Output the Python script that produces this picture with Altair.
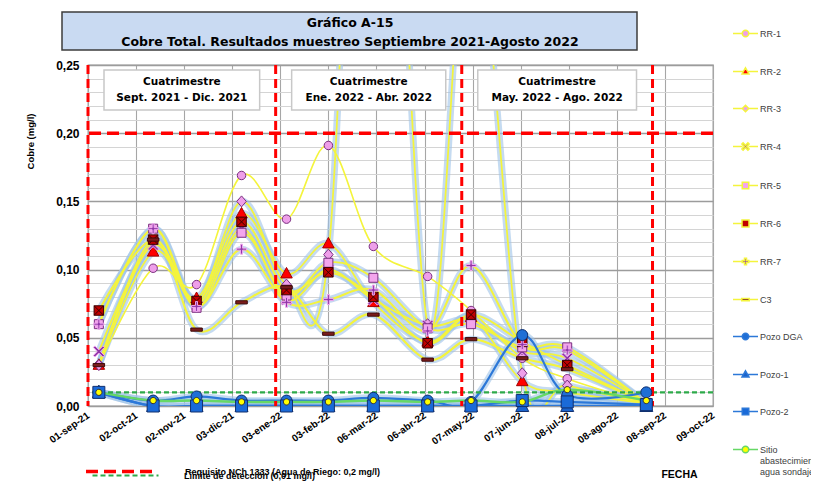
import math
import altair as alt
import pandas as pd

# ------------------------------------------------------------------ data
fechas = ["2021-09-08", "2021-10-13", "2021-11-10", "2021-12-09", "2022-01-07", "2022-02-03",
          "2022-03-04", "2022-04-08", "2022-05-06", "2022-06-08", "2022-07-07", "2022-08-27"]

series = ["RR-1", "RR-2", "RR-3", "RR-4", "RR-5", "RR-6", "RR-7", "C3",
          "Pozo DGA", "Pozo-1", "Pozo-2", "Sitio abastecimiento agua sondajes"]

rr1 = [0.030, 0.101, 0.089, 0.169, 0.137, 0.191, 0.117, 0.095, 0.070, 0.035, 0.020, 0.002]
rr2 = [0.030, 0.113, 0.079, 0.141, 0.097, 0.119, 0.076, 0.047, 0.065, 0.018, 0.010, 0.002]
rr3 = [0.030, 0.120, 0.075, 0.150, 0.089, 0.111, 0.680, 0.060, 0.380, 0.024, 0.015, 0.002]
rr4 = [0.040, 0.118, 0.074, 0.130, 0.078, 0.100, 0.078, 0.059, 0.063, 0.040, 0.035, 0.002]
rr5 = [0.060, 0.130, 0.072, 0.127, 0.081, 0.105, 0.094, 0.057, 0.060, 0.043, 0.043, 0.002]
rr6 = [0.070, 0.122, 0.077, 0.135, 0.085, 0.098, 0.080, 0.046, 0.067, 0.047, 0.030, 0.002]
rr7 = [0.060, 0.130, 0.073, 0.115, 0.076, 0.078, 0.085, 0.055, 0.103, 0.045, 0.041, 0.002]
c3 = [0.030, 0.122, 0.056, 0.076, 0.087, 0.053, 0.067, 0.034, 0.049, 0.035, 0.027, 0.002]
pozo_dga = [0.010, 0.004, 0.007, 0.004, 0.004, 0.004, 0.006, 0.004, 0.003, 0.052, 0.008, 0.010]
pozo_1 = [0.010, 0.000, 0.000, 0.000, 0.000, 0.000, 0.000, 0.000, 0.000, 0.000, 0.000, 0.000]
pozo_2 = [0.010, 0.000, 0.000, 0.000, 0.000, 0.000, 0.000, 0.000, 0.000, 0.004, 0.003, 0.001]
sitio = [0.010, 0.004, 0.004, 0.003, 0.003, 0.003, 0.004, 0.003, 0.004, 0.003, 0.012, 0.004]

ticks_x = ["2021-09-01", "2021-10-02", "2021-11-02", "2021-12-03", "2022-01-03", "2022-02-03",
           "2022-03-06", "2022-04-06", "2022-05-07", "2022-06-07", "2022-07-08", "2022-08-08",
           "2022-09-08", "2022-10-09"]
meses = ["ene", "feb", "mar", "abr", "may", "jun", "jul", "ago", "sep", "oct", "nov", "dic"]
ticks_y_mayor = [0.00, 0.05, 0.10, 0.15, 0.20, 0.25]
ticks_y_menor = [i / 100 for i in range(0, 26) if i % 5]

divisiones = ["2021-09-01", "2021-12-31", "2022-04-30", "2022-08-31"]
periodo_inicio = ["2021-09-01", "2021-12-31", "2022-04-30"]
periodo_fin = ["2021-12-31", "2022-04-30", "2022-08-31"]
periodo_texto = ["Cuatrimestre\nSept. 2021 - Dic. 2021",
                 "Cuatrimestre\nEne. 2022 - Abr. 2022",
                 "Cuatrimestre\nMay. 2022 - Ago. 2022"]

limite_riego_nombre = ["Requisito NCh 1333 (Agua de Riego: 0,2 mg/l)"]
limite_riego_valor = [0.20]
limite_deteccion_nombre = ["Limite de detección (0,01 mg/l)"]
limite_deteccion_valor = [0.01]

titulo = ["Gráfico A-15", "Cobre Total. Resultados muestreo Septiembre 2021-Agosto 2022"]

# ------------------------------------------------------------------ tables
valores = [rr1, rr2, rr3, rr4, rr5, rr6, rr7, c3, pozo_dga, pozo_1, pozo_2, sitio]
filas = []
for orden, (nombre, vals) in enumerate(zip(series, valores)):
    for f, v in zip(fechas, vals):
        filas.append({"fecha": f, "valor": v, "serie": nombre, "orden": orden})
df = pd.DataFrame(filas)
df_div = pd.DataFrame({"fecha": divisiones})
df_per = pd.DataFrame({"inicio": periodo_inicio, "fin": periodo_fin, "texto": periodo_texto})
df_riego = pd.DataFrame({"nombre": limite_riego_nombre, "valor": limite_riego_valor})
df_det = pd.DataFrame({"nombre": limite_deteccion_nombre, "valor": limite_deteccion_valor})
df_titulo = pd.DataFrame({"texto": ["\n".join(titulo)]})


def ms(s):
    return int(pd.Timestamp(s, tz="UTC").timestamp() * 1000)


def etiqueta(s):
    y, m, d = s.split("-")
    return f"{d}-{meses[int(m) - 1]}-{y[2:]}"


inicio_ms = ms(ticks_x[0])
mapa = ",".join(f"'{round((ms(t) - inicio_ms) / 86400000)}': '{etiqueta(t)}'" for t in ticks_x)
label_expr_x = f"{{{mapa}}}['' + round((time(datum.value) - {inicio_ms}) / 86400000)]"


# ------------------------------------------------------------------ marker shapes
def circ(r):
    return f"M{r},0A{r},{r},0,1,1,{-r},0A{r},{r},0,1,1,{r},0Z"


def sq(h):
    return f"M{-h},{-h}H{h}V{h}H{-h}Z"


def plus_pts(a, t):
    return [(-t, -a), (t, -a), (t, -t), (a, -t), (a, t), (t, t), (t, a), (-t, a), (-t, t), (-a, t), (-a, -t), (-t, -t)]


def poly(pts):
    return "M" + "L".join(f"{x:.3f},{y:.3f}" for x, y in pts) + "Z"


def pluspoly(a, t):
    return poly(plus_pts(a, t))


def xpoly(a, t):
    r = 1 / math.sqrt(2)
    return poly([((x - y) * r, (x + y) * r) for x, y in plus_pts(a * math.sqrt(2), t)])


def seg(g):
    return f"M-1,0H{-g}M{g},0H1"


marker_paths = [
    circ(0.85),
    "M0,-1.25L1.15,0.85L-1.15,0.85Z",
    "M0,-1.1L0.95,0L0,1.1L-0.95,0Z",
    xpoly(0.95, 0.22),
    sq(0.9),
    sq(0.95) + "M-0.95,-0.95L0.95,0.95M-0.95,0.95L0.95,-0.95",
    pluspoly(1.0, 0.2),
    "M-1.15,-0.32H1.15V0.32H-1.15Z",
    circ(1.1),
    "M0,-1.45L1.3,1.1L-1.3,1.1Z",
    sq(1.2),
    circ(0.62),
]
legend_paths = [
    seg(0.26) + circ(0.26),
    seg(0.2) + "M0,-0.3L0.28,0.2L-0.28,0.2Z",
    seg(0.26) + "M0,-0.26L0.26,0L0,0.26L-0.26,0Z",
    seg(0.24) + xpoly(0.24, 0.07),
    seg(0.26) + sq(0.26),
    seg(0.28) + sq(0.28),
    seg(0.26) + pluspoly(0.26, 0.08),
    seg(0.3) + "M-0.3,-0.09H0.3V0.09H-0.3Z",
    seg(0.26) + circ(0.26),
    seg(0.2) + "M0,-0.3L0.28,0.2L-0.28,0.2Z",
    seg(0.26) + sq(0.26),
    seg(0.26) + circ(0.26),
]
marker_fills = ["#ee9fe9", "#ff0000", "#ee9fe9", "#8e36a8", "#f3a5ec", "#c00000", "#8e36a8",
                "#7a1c1c", "#1f6fd6", "#1a63cc", "#1a6ad8", "#ffff00"]
marker_strokes = ["#7a2f80", "#a00000", "#7a2f80", "#f0a8ee", "#7a2f80", "#3a0000", "#f0a8ee",
                  "#3d0b0b", "#12306e", "#12306e", "#12306e", "#333333"]
line_colors = ["#f4f43c"] * 8 + ["#2c78d8", "#2c78d8", "#2c78d8", "#66d866"]
line_widths = [1.6] + [2.4] * 7 + [2.0, 2.0, 2.0, 3.0]

# ------------------------------------------------------------------ scales / axes
x_scale = alt.Scale(type="utc", domain=[ms("2021-09-01"), ms("2022-10-09")], nice=False)
y_scale = alt.Scale(domain=[0, 0.25], nice=False, zero=False)

x_axis = alt.Axis(
    orient="bottom", values=[ms(t) for t in ticks_x], labelExpr=label_expr_x,
    grid=True, gridColor="#a6a6a6", gridWidth=1.1, ticks=False, domain=False,
    labelAngle=325, labelAlign="right", labelBaseline="middle", labelPadding=8,
    labelFont="Liberation Sans", labelFontWeight="bold", labelFontSize=10, labelColor="black",
    labelOverlap=False, labelFlush=False,
    title="FECHA", titleFont="Liberation Sans", titleFontWeight="bold", titleFontSize=10.5,
    titleColor="black", titleX=591, titleY=68, titleAlign="center", titleBaseline="middle",
)
y_axis_mayor = alt.Axis(
    orient="left", values=ticks_y_mayor, format=".2f",
    grid=True, gridColor="#9c9c9c", gridWidth=1.6,
    ticks=False, domain=False, labelPadding=9, labelFlush=False,
    labelFont="Liberation Sans", labelFontWeight="bold", labelFontSize=12, labelColor="black",
    title="Cobre (mg/l)", titleFont="Liberation Sans", titleFontWeight="bold", titleFontSize=9.5,
    titleColor="black", titleAngle=270, titleX=-58, titleY=76, titleAlign="center", titleBaseline="middle",
)
y_axis_menor = alt.Axis(
    orient="right", values=ticks_y_menor, grid=True, gridColor="#d4d4d4", gridWidth=1.0,
    ticks=False, domain=False, labels=False, title=None,
)
XN = alt.X("fecha:T", scale=x_scale, axis=None)
YN = alt.Y("valor:Q", scale=y_scale, axis=None)

# ------------------------------------------------------------------ layers
caja_titulo = alt.Chart(df_titulo).mark_rect(fill="#c9daf2", stroke="#3c3c3c", strokeWidth=1.5).encode(
    x=alt.value(-26), x2=alt.value(549), y=alt.value(-53), y2=alt.value(-15)
)
texto_titulo = alt.Chart(df_titulo).mark_text(
    lineBreak="\n", font="DejaVu Sans", fontWeight="bold", fontSize=12.5, align="center",
    baseline="middle", lineHeight=19, color="black"
).encode(x=alt.value(262), y=alt.value(-42), text="texto:N")

brillo = alt.Chart(df).transform_filter("datum.serie != 'RR-1'").mark_line(
    interpolate="cardinal", clip=True, color="#9ec3e8", strokeWidth=7, opacity=0.6
).encode(x=XN, y=alt.Y("valor:Q", scale=y_scale, axis=y_axis_menor), detail="serie:N")

lineas = alt.Chart(df).mark_line(interpolate="cardinal", clip=True).encode(
    x=alt.X("fecha:T", scale=x_scale, axis=x_axis),
    y=alt.Y("valor:Q", scale=y_scale, axis=y_axis_mayor),
    color=alt.Color("serie:N", scale=alt.Scale(domain=series, range=line_colors), legend=None),
    strokeWidth=alt.StrokeWidth("serie:N", scale=alt.Scale(domain=series, range=line_widths), legend=None),
)


def leyenda_limite(legend_x, legend_y, largo, label_offset, grosor):
    return alt.Legend(
        orient="none", legendX=legend_x, legendY=legend_y, title=None, padding=0, symbolType="stroke",
        symbolSize=largo * largo, symbolStrokeWidth=grosor, labelOffset=label_offset, symbolOpacity=1,
        labelFont="Liberation Sans Narrow, Liberation Sans", labelFontWeight="bold", labelFontSize=9,
        labelColor="black", labelLimit=0,
    )


leg_riego = leyenda_limite(-4, 369, 71, 26, 3.5)
riego = alt.Chart(df_riego).mark_rule(strokeWidth=3.5).encode(
    y=YN,
    stroke=alt.Stroke("nombre:N", scale=alt.Scale(domain=limite_riego_nombre, range=["#ff0000"]), legend=leg_riego),
    strokeDash=alt.StrokeDash("nombre:N", scale=alt.Scale(domain=limite_riego_nombre, range=[[12, 6]]), legend=leg_riego),
)
leg_det = leyenda_limite(3, 376, 66, 24, 2.2)
deteccion = alt.Chart(df_det).mark_rule(strokeWidth=2.2).encode(
    y=YN,
    stroke=alt.Stroke("nombre:N", scale=alt.Scale(domain=limite_deteccion_nombre, range=["#2eaa4a"]), legend=leg_det),
    strokeDash=alt.StrokeDash("nombre:N", scale=alt.Scale(domain=limite_deteccion_nombre, range=[[5, 3]]), legend=leg_det),
)

divis = alt.Chart(df_div).mark_rule(color="#ff0000", strokeWidth=3, strokeDash=[9, 5]).encode(x=XN)

cajas = alt.Chart(df_per).mark_rect(
    fill="white", stroke="#c8c8c8", strokeWidth=1.5, xOffset=16, x2Offset=-16, yOffset=5, y2Offset=45
).encode(
    x=alt.X("inicio:T", scale=x_scale, axis=None), x2="fin:T",
    y=alt.YDatum(0.25, scale=y_scale, axis=None), y2=alt.Y2Datum(0.25),
)

textos = alt.Chart(df_per).transform_calculate(
    medio="(time(toDate(datum.inicio)) + time(toDate(datum.fin))) / 2"
).mark_text(
    lineBreak="\n", font="DejaVu Sans", fontWeight="bold", fontSize=10.5, align="center",
    baseline="middle", yOffset=17, lineHeight=16, color="black"
).encode(
    x=alt.X("medio:T", scale=x_scale, axis=None),
    y=alt.YDatum(0.25, scale=y_scale, axis=None), text="texto:N",
)

puntos = alt.Chart(df).transform_filter("datum.valor <= 0.25").mark_point(
    filled=True, size=100, strokeWidth=1, opacity=1
).encode(
    x=XN, y=YN,
    shape=alt.Shape("serie:N", scale=alt.Scale(domain=series, range=marker_paths), legend=None),
    fill=alt.Fill("serie:N", scale=alt.Scale(domain=series, range=marker_fills), legend=None),
    stroke=alt.Stroke("serie:N", scale=alt.Scale(domain=series, range=marker_strokes), legend=None),
    order=alt.Order("orden:Q"),
)

leg_ser = alt.Legend(
    orient="none", legendX=644, legendY=-45, title=None, padding=0, symbolSize=625,
    symbolStrokeWidth=1.5, symbolOpacity=1, labelOffset=1, rowPadding=18,
    labelFont="Liberation Sans Narrow, Liberation Sans", labelFontSize=9, labelColor="#404040",
    labelLimit=0,
    labelExpr="datum.label == 'Sitio abastecimiento agua sondajes' ? ['Sitio', 'abastecimiento', 'agua sondajes'] : datum.label",
)
leyenda = alt.Chart(df).mark_point(filled=True, size=625, opacity=0, strokeWidth=1.5).encode(
    x=XN, y=YN,
    shape=alt.Shape("serie:N", scale=alt.Scale(domain=series, range=legend_paths), legend=leg_ser),
    fill=alt.Fill("serie:N", scale=alt.Scale(domain=series, range=marker_fills), legend=leg_ser),
    stroke=alt.Stroke("serie:N", scale=alt.Scale(domain=series, range=line_colors), legend=leg_ser),
)

locale = {"number": {"decimal": ",", "thousands": ".", "grouping": [3], "currency": ["$", ""]}}

chart = alt.layer(
    caja_titulo, texto_titulo, brillo, lineas, riego, deteccion, divis, cajas, textos, puntos, leyenda
).resolve_scale(
    shape="independent", fill="independent", stroke="independent", strokeDash="independent",
).resolve_axis(x="independent", y="independent").properties(
    width=625, height=341,
    autosize=alt.AutoSizeParams(type="none"),
    padding={"left": 80, "top": 57, "right": 98, "bottom": 76},
).configure(background="white", locale=locale).configure_view(stroke="#9a9a9a", strokeWidth=1.3)

chart.save("out.html", embed_options={"renderer": "svg", "actions": False})
